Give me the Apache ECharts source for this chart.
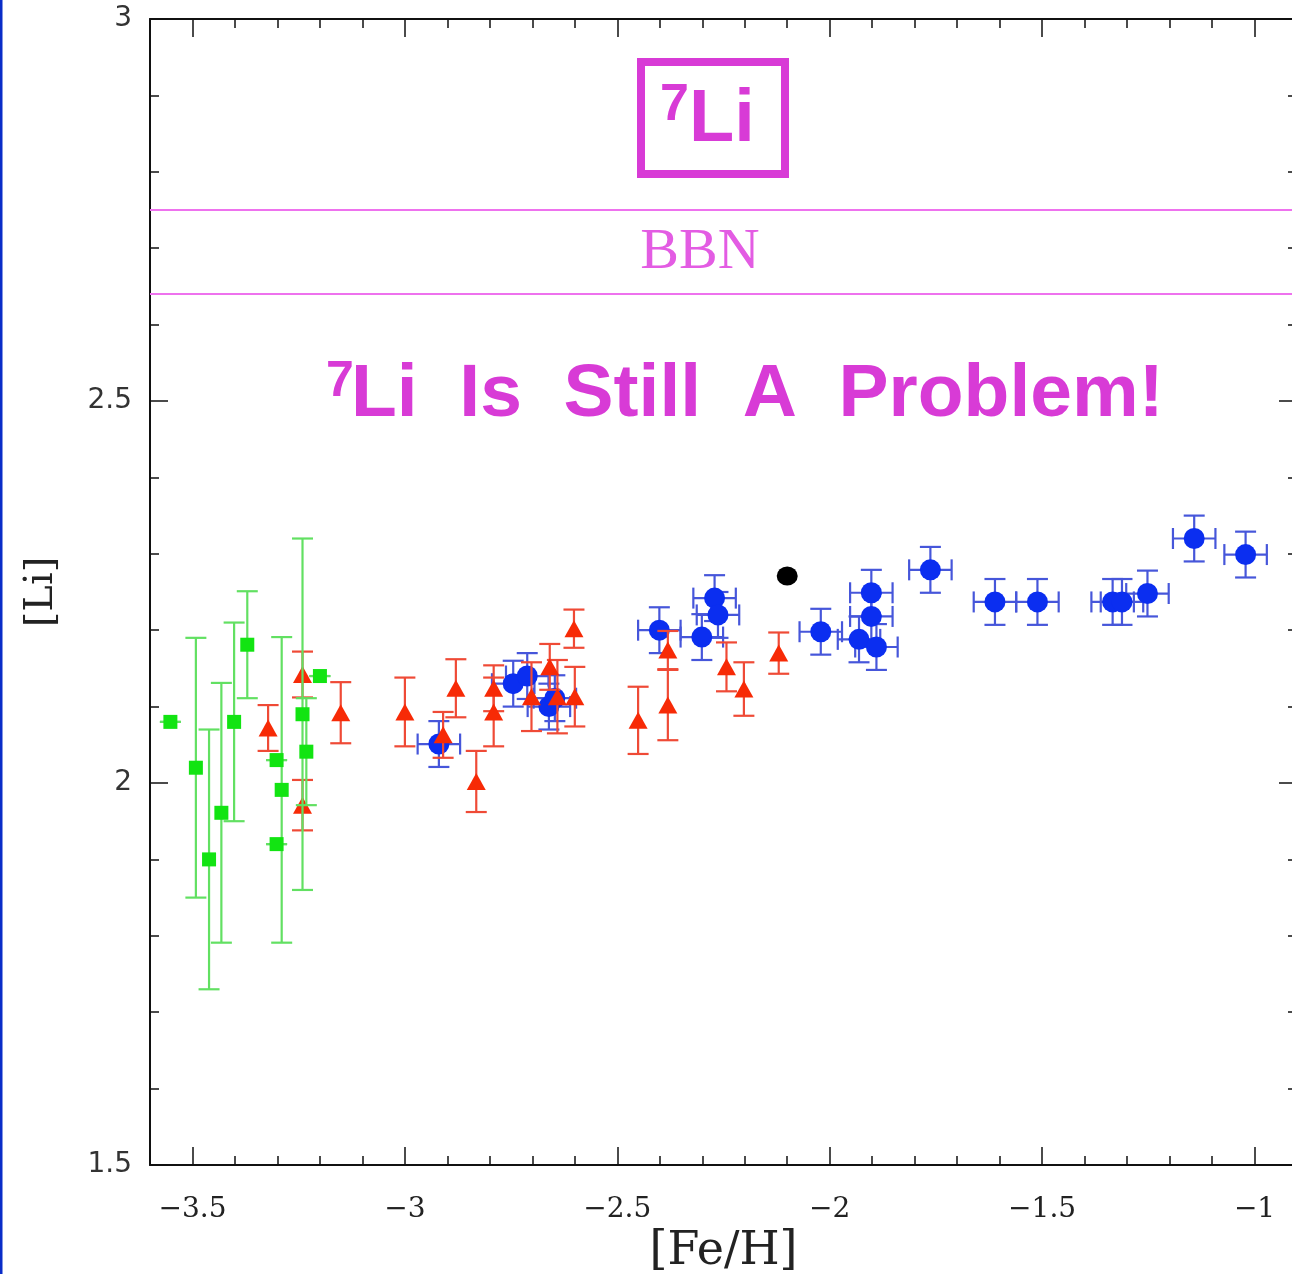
<!DOCTYPE html>
<html>
<head>
<meta charset="utf-8">
<script src="https://cdn.jsdelivr.net/npm/echarts@6/dist/echarts.min.js"></script>
<style>
html,body{margin:0;padding:0;background:#fff;}
#chart{width:1292px;height:1274px;}
</style>
</head>
<body>
<div id="chart"></div>
<script>
// ---- data ----
const greenFeH = [-3.552,-3.492,-3.461,-3.432,-3.402,-3.371,-3.302,-3.290,-3.302,-3.241,-3.232,-3.200];
const greenLi  = [2.080,2.020,1.900,1.961,2.080,2.181,2.030,1.991,1.920,2.090,2.041,2.140];
const greenErr = [0,0.17,0.17,0.17,0.13,0.07,0,0.20,0,0.23,0.07,0];

const redFeH = [-3.322,-3.241,-3.241,-3.151,-3.000,-2.910,-2.880,-2.832,-2.791,-2.791,-2.702,-2.659,-2.641,-2.602,-2.600,-2.451,-2.381,-2.381,-2.243,-2.202,-2.120];
const redLi  = [2.072,2.142,1.971,2.092,2.093,2.063,2.124,2.002,2.124,2.093,2.113,2.152,2.113,2.202,2.113,2.082,2.174,2.102,2.152,2.123,2.170];
const redErr = [0.03,0.03,0.033,0.04,0.045,0.03,0.038,0.04,0.03,0.045,0.045,0.03,0.048,0.025,0.039,0.044,0.025,0.046,0.032,0.035,0.027];

const blueFeH = [-2.920,-2.745,-2.712,-2.661,-2.647,-2.401,-2.301,-2.271,-2.263,-2.021,-1.931,-1.902,-1.902,-1.890,-1.763,-1.611,-1.511,-1.334,-1.312,-1.252,-1.142,-1.021];
const blueLi  = [2.051,2.130,2.140,2.100,2.111,2.200,2.191,2.242,2.220,2.198,2.188,2.249,2.218,2.178,2.279,2.237,2.237,2.237,2.237,2.248,2.320,2.299];
const blueErrLi  = [0.03,0.03,0.03,0.03,0.03,0.03,0.03,0.03,0.03,0.03,0.03,0.03,0.03,0.03,0.03,0.03,0.03,0.03,0.03,0.03,0.03,0.03];
const blueErrFeH = [0.05,0.05,0.05,0.05,0.05,0.05,0.05,0.05,0.05,0.05,0.05,0.05,0.05,0.05,0.05,0.05,0.05,0.05,0.05,0.05,0.05,0.05];

const blackFeH = [-2.100];
const blackLi  = [2.271];

const bbnLimits = [2.641, 2.751];

const xMin = -3.6, xMax = -0.9;
const yMin = 1.5, yMax = 3;

// ---- build ----
function zip(xs, ys, eys, exs) {
  return xs.map((x, i) => [x, ys[i], eys ? eys[i] : 0, exs ? exs[i] : 0]);
}
const xCats = [];
for (let i = 0; i <= Math.round((xMax - xMin) * 10); i++) xCats.push((xMin + i * 0.1).toFixed(1));
const isMajor = v => Math.abs(v * 2 - Math.round(v * 2)) < 1e-6;

function errRender(color) {
  return function (params, api) {
    const x = api.value(0), y = api.value(1), ey = api.value(2), ex = api.value(3);
    const c = api.coord([x, y]);
    const t = api.coord([x, y + ey]);
    const b = api.coord([x, y - ey]);
    const cap = 10.5;
    const st = { stroke: color, lineWidth: 2.2 };
    const ch = [
      { type: 'line', shape: { x1: c[0], y1: t[1], x2: c[0], y2: b[1] }, style: st },
      { type: 'line', shape: { x1: c[0] - cap, y1: t[1], x2: c[0] + cap, y2: t[1] }, style: st },
      { type: 'line', shape: { x1: c[0] - cap, y1: b[1], x2: c[0] + cap, y2: b[1] }, style: st }
    ];
    if (ex > 0) {
      const l = api.coord([x - ex, y]);
      const r = api.coord([x + ex, y]);
      ch.push({ type: 'line', shape: { x1: l[0], y1: c[1], x2: r[0], y2: c[1] }, style: st });
      ch.push({ type: 'line', shape: { x1: l[0], y1: c[1] - cap, x2: l[0], y2: c[1] + cap }, style: st });
      ch.push({ type: 'line', shape: { x1: r[0], y1: c[1] - cap, x2: r[0], y2: c[1] + cap }, style: st });
    }
    return { type: 'group', children: ch };
  };
}

const magenta = '#d83bd6';
const axisCol = '#111';

const chart = echarts.init(document.getElementById('chart'));
chart.setOption({
  animation: false,
  backgroundColor: '#fff',
  grid: { left: 150, top: 19, width: 1147, height: 1146, containLabel: false, outerBoundsMode: 'none' },
  xAxis: [
    {
      type: 'value', position: 'bottom', min: xMin, max: xMax, interval: 0.1,
      axisLine: { show: true, onZero: false, lineStyle: { color: axisCol, width: 2 } },
      axisTick: { show: true, inside: true, length: 9, lineStyle: { color: axisCol, width: 1.5 } },
      splitLine: { show: false },
      axisLabel: {
        margin: 31, color: '#222', fontFamily: 'DejaVu Serif', fontSize: 28,
        formatter: v => isMajor(v) ? String(Math.round(v * 10) / 10).replace('-', '\u2212') : ''
      },
      name: '[Fe/H]', nameLocation: 'middle', nameGap: 64,
      nameTextStyle: { fontFamily: 'DejaVu Serif', fontSize: 46, color: '#222' }
    },
    {
      type: 'category', position: 'bottom', data: xCats, boundaryGap: false,
      axisLine: { show: false },
      axisTick: { show: true, inside: true, length: 18, interval: (i) => isMajor(parseFloat(xCats[i])), lineStyle: { color: axisCol, width: 1.5 } },
      axisLabel: { show: false }, splitLine: { show: false }
    },
    {
      type: 'value', position: 'top', min: xMin, max: xMax, interval: 0.1,
      axisLine: { show: true, onZero: false, lineStyle: { color: axisCol, width: 2 } },
      axisTick: { show: true, inside: true, length: 9, lineStyle: { color: axisCol, width: 1.5 } },
      axisLabel: { show: false }, splitLine: { show: false }
    },
    {
      type: 'category', position: 'top', data: xCats, boundaryGap: false,
      axisLine: { show: false },
      axisTick: { show: true, inside: true, length: 18, interval: (i) => isMajor(parseFloat(xCats[i])), lineStyle: { color: axisCol, width: 1.5 } },
      axisLabel: { show: false }, splitLine: { show: false }
    }
  ],
  yAxis: [
    {
      type: 'value', position: 'left', min: yMin, max: yMax, interval: 0.5,
      axisLine: { show: true, onZero: false, lineStyle: { color: axisCol, width: 2 } },
      axisTick: { show: true, inside: true, length: 18, lineStyle: { color: axisCol, width: 1.5 } },
      minorTick: { show: true, splitNumber: 5, length: 9, lineStyle: { color: axisCol, width: 1.5 } },
      splitLine: { show: false },
      axisLabel: { margin: 18, color: '#333', fontFamily: 'DejaVu Sans', fontSize: 28 },
      name: '[Li]', nameLocation: 'middle', nameGap: 88, nameRotate: 90,
      nameTextStyle: { fontFamily: 'DejaVu Serif', fontSize: 40, color: '#222' }
    },
    {
      type: 'value', position: 'right', min: yMin, max: yMax, interval: 0.5,
      axisLine: { show: true, onZero: false, lineStyle: { color: axisCol, width: 2 } },
      axisTick: { show: true, inside: true, length: 18, lineStyle: { color: axisCol, width: 1.5 } },
      minorTick: { show: true, splitNumber: 5, length: 9, lineStyle: { color: axisCol, width: 1.5 } },
      splitLine: { show: false }, axisLabel: { show: false }
    }
  ],
  series: [
    {
      type: 'custom', name: 'blueErr', xAxisIndex: 0, yAxisIndex: 0, z: 2, silent: true,
      renderItem: errRender('#4656da'), encode: { x: 0, y: 1 },
      data: zip(blueFeH, blueLi, blueErrLi, blueErrFeH)
    },
    {
      type: 'scatter', name: 'blue', xAxisIndex: 0, yAxisIndex: 0, z: 3, silent: true,
      symbol: 'circle', symbolSize: 21, itemStyle: { color: '#0b2ef0', opacity: 1 },
      data: zip(blueFeH, blueLi).map(d => [d[0], d[1]]),
      markLine: {
        silent: true, symbol: 'none', label: { show: false },
        lineStyle: { color: '#ee72ee', width: 2, type: 'solid' },
        data: bbnLimits.map(v => ({ yAxis: v }))
      }
    },
    {
      type: 'custom', name: 'redErr', xAxisIndex: 0, yAxisIndex: 0, z: 4, silent: true,
      renderItem: errRender('#ef4a36'), encode: { x: 0, y: 1 },
      data: zip(redFeH, redLi, redErr)
    },
    {
      type: 'scatter', name: 'red', xAxisIndex: 0, yAxisIndex: 0, z: 5, silent: true,
      symbol: 'triangle', symbolSize: [19, 17], itemStyle: { color: '#f72a06', opacity: 1 },
      data: zip(redFeH, redLi).map(d => [d[0], d[1]])
    },
    {
      type: 'custom', name: 'greenErr', xAxisIndex: 0, yAxisIndex: 0, z: 6, silent: true,
      renderItem: errRender('#62e062'), encode: { x: 0, y: 1 },
      data: zip(greenFeH, greenLi, greenErr)
    },
    {
      type: 'scatter', name: 'green', xAxisIndex: 0, yAxisIndex: 0, z: 7, silent: true,
      symbol: 'rect', symbolSize: 14, itemStyle: { color: '#12e412', opacity: 1 },
      data: zip(greenFeH, greenLi).map(d => [d[0], d[1]])
    },
    {
      type: 'scatter', name: 'black', xAxisIndex: 0, yAxisIndex: 0, z: 8, silent: true,
      symbol: 'circle', symbolSize: [21, 19], itemStyle: { color: '#000', opacity: 1 },
      data: zip(blackFeH, blackLi).map(d => [d[0], d[1]])
    }
  ],
  graphic: [
    { type: 'rect', left: 0, top: 0, shape: { x: 0, y: 0, width: 2.5, height: 1274 }, style: { fill: '#0a2cc8' }, silent: true },
    { type: 'rect', shape: { x: 641, y: 62, width: 144, height: 112 }, style: { fill: 'none', stroke: magenta, lineWidth: 8 }, silent: true },
    { type: 'text', x: 660, y: 106, style: { text: '7', fill: magenta, font: 'bold 52px "Liberation Sans"', verticalAlign: 'middle', align: 'left' }, silent: true },
    { type: 'text', x: 689, y: 121, style: { text: 'Li', fill: magenta, font: 'bold 74px "Liberation Sans"', verticalAlign: 'middle', align: 'left' }, silent: true },
    { type: 'text', x: 700, y: 253, style: { text: 'BBN', fill: '#e35ce3', font: '58px "Liberation Serif"', verticalAlign: 'middle', align: 'center' }, silent: true },
    { type: 'text', x: 326, y: 382, style: { text: '7', fill: magenta, font: 'bold 50px "Liberation Sans"', verticalAlign: 'middle', align: 'left' }, silent: true },
    { type: 'text', x: 351, y: 395, style: { text: 'Li  Is  Still  A  Problem!', fill: magenta, font: 'bold 75px "Liberation Sans"', verticalAlign: 'middle', align: 'left' }, silent: true }
  ]
});
</script>
</body>
</html>
